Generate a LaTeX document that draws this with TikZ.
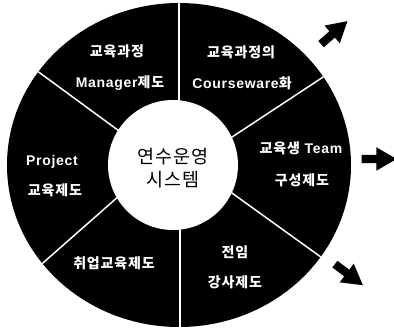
\documentclass[tikz,border=0pt]{standalone}
\usepackage{fontspec}
\setmainfont{Liberation Sans}[LetterSpace=5]
\newfontfamily\kr{Noto Sans CJK KR}[LetterSpace=6]
\usetikzlibrary{shapes.arrows}
\tikzset{
  lbl/.style={text=white, inner sep=0pt, font=\fontsize{14}{16}\selectfont\bfseries},
  cen/.style={text=black, inner sep=0pt, align=center, font=\fontsize{18.5}{23}\selectfont\kr},
  divider/.style={draw=white, line width=1.5pt},
  barrow/.style={single arrow, fill=black, draw=none, inner xsep=0pt, inner ysep=4pt,
    single arrow head extend=7.5pt,
    single arrow tip angle=60, minimum height=35pt},
}
\begin{document}
\begin{tikzpicture}[x=1pt,y=-1pt]
\useasboundingbox (0,0) rectangle (394,329);
\fill[black] (179,165) ellipse [x radius=172pt, y radius=162pt];
\begin{scope}
  \clip (179,165) ellipse [x radius=172pt, y radius=162pt];
  \draw[divider] (179,-10) -- (179,120);
  \draw[divider] (180,210) -- (180,340);
  \draw[divider] (10,51) -- (130,139);
  \draw[divider] (352,58) -- (223,143);
  \draw[divider] (350,278) -- (225,188);
  \draw[divider] (10,292) -- (128,188);
\end{scope}
\fill[white] (173,165) circle [radius=65pt];
\node[cen] (c) at (173,168.5) {연수운영\\시스템};
\node[lbl] (ul1) at (117,51) {\kr 교육과정};
\node[lbl] (ul2) at (120,83) {Manager{\kr 제도}};
\node[lbl] (ur1) at (241,52) {\kr 교육과정의};
\node[lbl] (ur2) at (242,83) {Courseware{\kr 화}};
\node[lbl] (r1) at (301,148) {{\kr 교육생} Team};
\node[lbl] (r2) at (302,180) {\kr 구성제도};
\node[lbl] (l1) at (52,162) {Project};
\node[lbl] (l2) at (55,190) {\kr 교육제도};
\node[lbl] (ll) at (114,263) {\kr 취업교육제도};
\node[lbl] (lr1) at (235,252) {\kr 전임};
\node[lbl] (lr2) at (235,282) {\kr 강사제도};
\node[barrow, rotate=41] (a1) at (331.5,35) {};
\node[barrow] (a2) at (375.5,159) {};
\node[barrow, rotate=-37] (a3) at (346,272.5) {};
\end{tikzpicture}
\end{document}
